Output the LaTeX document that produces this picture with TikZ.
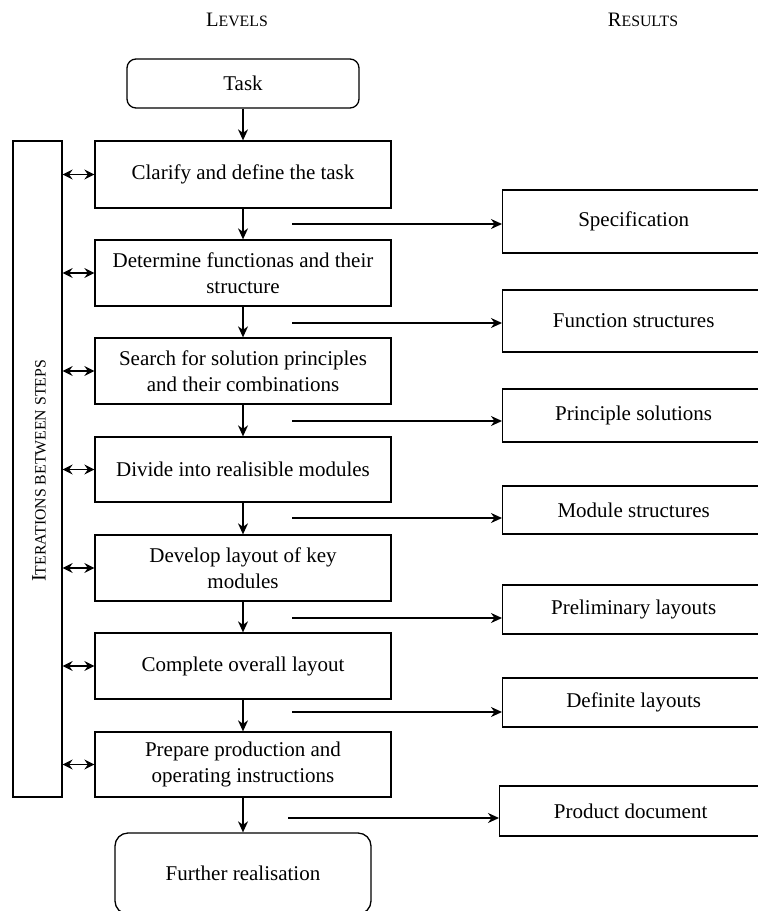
\documentclass[tikz,border=0pt]{standalone}
\usepackage{fontspec}
\setmainfont{Liberation Serif}
\usetikzlibrary{arrows.meta}
\newcommand\bigsc[2]{{\fontsize{20.5}{24}\selectfont #1}{\fontsize{15.8}{18}\selectfont #2}}
\begin{document}
\begin{tikzpicture}[x=1pt,y=-1pt,
  every node/.style={font=\fontsize{21}{26.5}\selectfont},
  stepbox/.style={draw, line width=1.3pt, minimum width=296pt, inner sep=0pt, align=center},
  resbox/.style={draw, line width=1.3pt, minimum width=262pt, inner sep=0pt, anchor=west},
  endbox/.style={draw, line width=1.3pt, rounded corners=9pt, inner sep=0pt},
  arr/.style={line width=1.3pt, -{Stealth[length=11pt,width=10pt,inset=3.5pt]}},
  darr/.style={line width=1.3pt, {Stealth[length=10pt,width=10pt,inset=3.5pt]}-{Stealth[length=10pt,width=10pt,inset=3.5pt]}},
  title/.style={inner sep=0pt, anchor=base}
]
\path[use as bounding box] (0,0) rectangle (758,911);
\clip (0,0) rectangle (758,911);

% titles
\node[title] (lv) at (237,26) {\bigsc{L}{EVELS}};
\node[title] (rs) at (643,26) {\bigsc{R}{ESULTS}};

% start / end
\node[endbox, minimum width=232pt, minimum height=49pt] (task) at (243,83.5) {Task};
\node[endbox, rounded corners=13pt, minimum width=256pt, minimum height=81pt] (fr) at (243,873.5) {Further realisation};

% steps
\node[stepbox, minimum height=67pt] (b1) at (243,174.5) {Clarify and define the task};
\node[stepbox, minimum height=66pt] (b2) at (243,273) {Determine  functionas and their\\structure};
\node[stepbox, minimum height=66pt] (b3) at (243,371) {Search for solution principles\\and their combinations};
\node[stepbox, minimum height=65pt] (b4) at (243,469.5) {Divide into realisible  modules};
\node[stepbox, minimum height=66pt] (b5) at (243,568) {Develop  layout of key\\modules};
\node[stepbox, minimum height=66pt] (b6) at (243,666) {Complete  overall  layout};
\node[stepbox, minimum height=65pt] (b7) at (243,764.5) {Prepare production and\\operating instructions};

% iterations box
\node[draw, line width=1.3pt, minimum width=49pt, minimum height=656pt, inner sep=0pt] (itr) at (37.5,469) {};
\node[rotate=90, inner sep=0pt] (itrt) at (39,471) {\bigsc{I}{TERATIONS BETWEEN STEPS}};

% results
\node[resbox, minimum height=63pt] (r1) at (502,221.5) {Specification};
\node[resbox, minimum height=62pt] (r2) at (502,321) {Function structures};
\node[resbox, minimum height=53pt] (r3) at (502,415.5) {Principle  solutions};
\node[resbox, minimum height=48pt] (r4) at (502,510) {Module  structures};
\node[resbox, minimum height=49pt] (r5) at (502,609.5) {Preliminary  layouts};
\node[resbox, minimum height=49pt] (r6) at (502,702.5) {Definite  layouts};
\node[resbox, minimum height=50pt] (r7) at (499,811) {Product document};

% down arrows
\draw[arr] (task.south) -- (b1.north);
\draw[arr] (b1.south) -- (b2.north);
\draw[arr] (b2.south) -- (b3.north);
\draw[arr] (b3.south) -- (b4.north);
\draw[arr] (b4.south) -- (b5.north);
\draw[arr] (b5.south) -- (b6.north);
\draw[arr] (b6.south) -- (b7.north);
\draw[arr] (b7.south) -- (fr.north);

% result arrows
\coordinate (c1) at (292,224);
\coordinate (c2) at (292,323);
\coordinate (c3) at (292,421);
\coordinate (c4) at (292,518);
\coordinate (c5) at (292,618);
\coordinate (c6) at (292,712);
\coordinate (c7) at (288,818);
\draw[arr] (c1) -- (r1.west |- c1);
\draw[arr] (c2) -- (r2.west |- c2);
\draw[arr] (c3) -- (r3.west |- c3);
\draw[arr] (c4) -- (r4.west |- c4);
\draw[arr] (c5) -- (r5.west |- c5);
\draw[arr] (c6) -- (r6.west |- c6);
\draw[arr] (c7) -- (r7.west |- c7);

% iteration double arrows
\foreach \b in {b1,b2,b3,b4,b5,b6,b7}{
  \draw[darr] (itr.east |- \b.west) -- (\b.west);
}
\end{tikzpicture}
\end{document}
